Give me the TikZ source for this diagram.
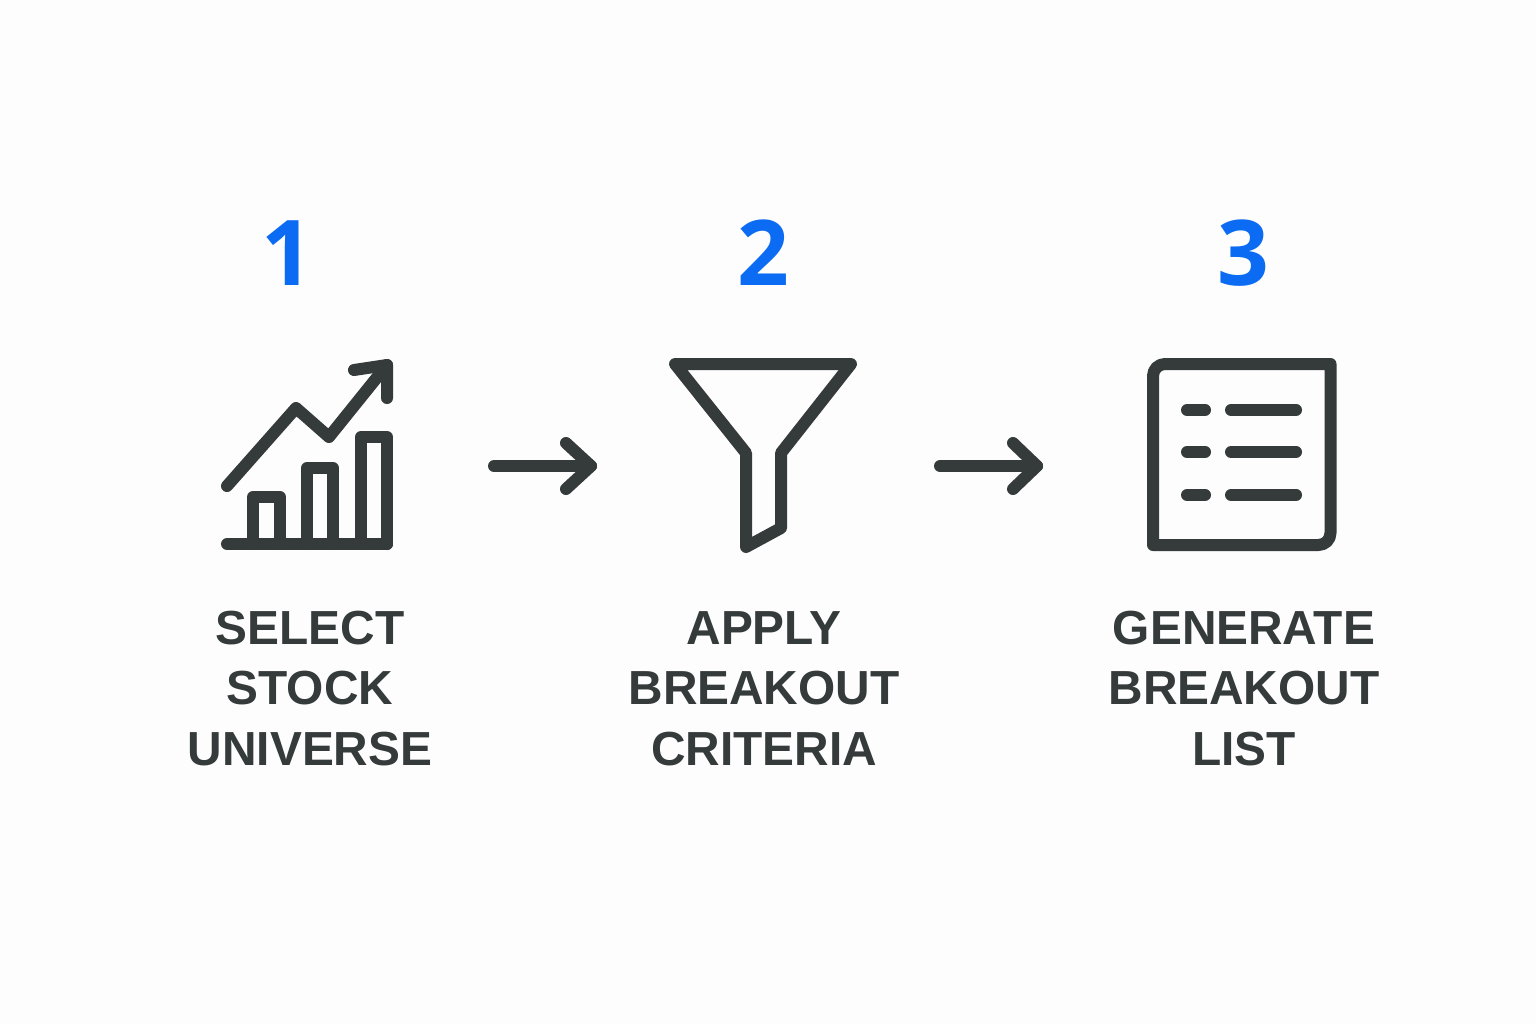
\documentclass[tikz,border=0pt]{standalone}
\usepackage{fontspec}
\setmainfont{Liberation Sans}
\newfontfamily\numfont{Open Sans}
\usepackage{xcolor}
\usetikzlibrary{arrows.meta}
\definecolor{iconink}{HTML}{353A3A}
\definecolor{stepblue}{HTML}{0B6BF2}
\definecolor{pagetint}{HTML}{FDFDFD}
\tikzset{
    iconline/.style={draw=iconink, line width=0.12cm, line cap=round, line join=round},
    stepnum/.style={text=stepblue, font=\numfont\fontsize{25.8pt}{30pt}\bfseries, inner sep=0pt, anchor=base},
    steplabel/.style={text=iconink, font=\fontsize{13.6pt}{17.07pt}\bfseries, align=center, inner sep=0pt, anchor=base}
}

\begin{document}
\begin{tikzpicture}[x=0.01cm, y=-0.01cm]
            \fill[pagetint] (0,0) rectangle (1536,1024);
            \useasboundingbox (0,0) rectangle (1536,1024);

            % step numbers
            \draw (287,285) node[stepnum]                  (num1) {1};
            \draw (763,285) node[stepnum]                  (num2) {2};
            \draw (1243,285) node[stepnum]                 (num3) {3};

            % labels
            \draw (310,765) node[steplabel]                (label1) {SELECT\\STOCK\\UNIVERSE};
            \draw (764,765) node[steplabel]                (label2) {APPLY\\BREAKOUT\\CRITERIA};
            \draw (1244,765) node[steplabel]               (label3) {GENERATE\\BREAKOUT\\LIST};

            % chart icon
            \draw[iconline] (227,486) -- (296,408) -- (329,437) -- (387,365);
            \draw[iconline] (354,370) -- (387,365) -- (387,398);
            \draw[iconline] (227,544) -- (387,544);
            \draw[iconline] (253,544) -- (253,497) -- (280,497) -- (280,544);
            \draw[iconline] (307,544) -- (307,468) -- (333,468) -- (333,544);
            \draw[iconline] (361,544) -- (361,437) -- (387,437) -- (387,544);

            % funnel icon
            \draw[iconline] (675,364) -- (851,364) -- (781,453) -- (781,528) -- (746,547) -- (746,453) -- cycle;

            % list icon
            \draw[iconline] (1153,545) [rounded corners=0.12cm] -- (1153,364) [sharp corners] -- (1330.5,364)
                [rounded corners=0.12cm] -- (1330.5,545) [sharp corners] -- cycle;
            \foreach \rowy in {410,452,495} {
                \draw[iconline] (1187,\rowy) -- (1205,\rowy);
                \draw[iconline] (1231,\rowy) -- (1296,\rowy);
            }

            % arrows between the steps
            \coordinate (flow1a) at (494,466);
            \coordinate (flow1b) at (591,466);
            \coordinate (flow2a) at (940,466);
            \coordinate (flow2b) at (1037,466);
            \draw[iconline] (flow1a) -- (flow1b);
            \draw[iconline] (566,443) -- (flow1b) -- (566,489);
            \draw[iconline] (flow2a) -- (flow2b);
            \draw[iconline] (1013,443) -- (flow2b) -- (1013,489);

\end{tikzpicture}
\end{document}
